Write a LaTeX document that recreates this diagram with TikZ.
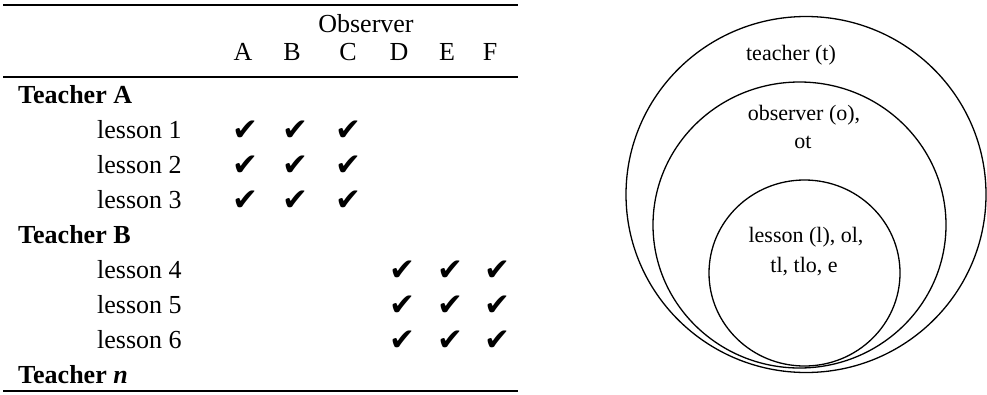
\documentclass[tikz,border=0pt]{standalone}
\usepackage{fontspec}
\usetikzlibrary{shapes.geometric}
\setmainfont{Liberation Serif}
\newfontfamily\checkfont{DejaVu Sans}
\begin{document}
\begin{tikzpicture}[x=1pt,y=-1pt,
  tbl/.style={inner sep=0pt,anchor=base,font=\fontsize{26}{30}\selectfont},
  rowlbl/.style={tbl,anchor=base west},
  chk/.style={inner sep=0pt,anchor=base,font=\checkfont\fontsize{31}{34}\selectfont},
  venn/.style={inner sep=0pt,anchor=base,font=\fontsize{22}{26}\selectfont},
  rulethick/.style={line width=2pt},
  rulethin/.style={line width=1.6pt},
  ring/.style={draw,ellipse,line width=1.3pt,inner sep=0pt}]
\useasboundingbox (0,0) rectangle (987,394);
% rules
\coordinate (r1a) at (3,5); \coordinate (r1b) at (518,5);
\coordinate (r2a) at (3,77); \coordinate (r2b) at (518,77);
\coordinate (r3a) at (3,391); \coordinate (r3b) at (518,391);
\draw[rulethick] (r1a) -- (r1b);
\draw[rulethin] (r2a) -- (r2b);
\draw[rulethick] (r3a) -- (r3b);
% header
\node[tbl] (obs) at (366,32) {Observer};
\node[tbl] (hA) at (243,60) {A};
\node[tbl] (hB) at (292,60) {B};
\node[tbl] (hC) at (348,60) {C};
\node[tbl] (hD) at (399,60) {D};
\node[tbl] (hE) at (447,60) {E};
\node[tbl] (hF) at (490,60) {F};
% rows
\node[rowlbl,font=\fontsize{26}{30}\selectfont\bfseries] (tA) at (18,103) {Teacher A};
\node[rowlbl] (l1) at (97,138) {lesson 1};
\node[rowlbl] (l2) at (97,173) {lesson 2};
\node[rowlbl] (l3) at (97,208) {lesson 3};
\node[rowlbl,font=\fontsize{26}{30}\selectfont\bfseries] (tB) at (18,243) {Teacher B};
\node[rowlbl] (l4) at (97,278) {lesson 4};
\node[rowlbl] (l5) at (97,313) {lesson 5};
\node[rowlbl] (l6) at (97,348) {lesson 6};
\node[rowlbl,font=\fontsize{26}{30}\selectfont\bfseries] (tn) at (18,383) {Teacher \textit{n}};
% checks
\foreach \r/\y in {1/140,2/175,3/210}{
  \node[chk] (c\r a) at (245,\y) {✔};
  \node[chk] (c\r b) at (295,\y) {✔};
  \node[chk] (c\r c) at (348,\y) {✔};
}
\foreach \r/\y in {4/280,5/315,6/350}{
  \node[chk] (c\r d) at (402,\y) {✔};
  \node[chk] (c\r e) at (450,\y) {✔};
  \node[chk] (c\r f) at (497,\y) {✔};
}
% circles
\node[ring,minimum width=360pt,minimum height=356pt] (outer) at (806,194.5) {};
\node[ring,minimum width=293pt,minimum height=286pt] (middle) at (799.5,225) {};
\node[ring,minimum width=191pt,minimum height=186pt] (inner) at (804.5,273) {};
\node[venn] (tt) at (791,60) {teacher (t)};
\node[venn] (to1) at (804,120) {observer (o),};
\node[venn] (to2) at (803,148) {ot};
\node[venn] (tl1) at (806,242) {lesson (l), ol,};
\node[venn] (tl2) at (804,272) {tl, tlo, e};
\end{tikzpicture}
\end{document}
